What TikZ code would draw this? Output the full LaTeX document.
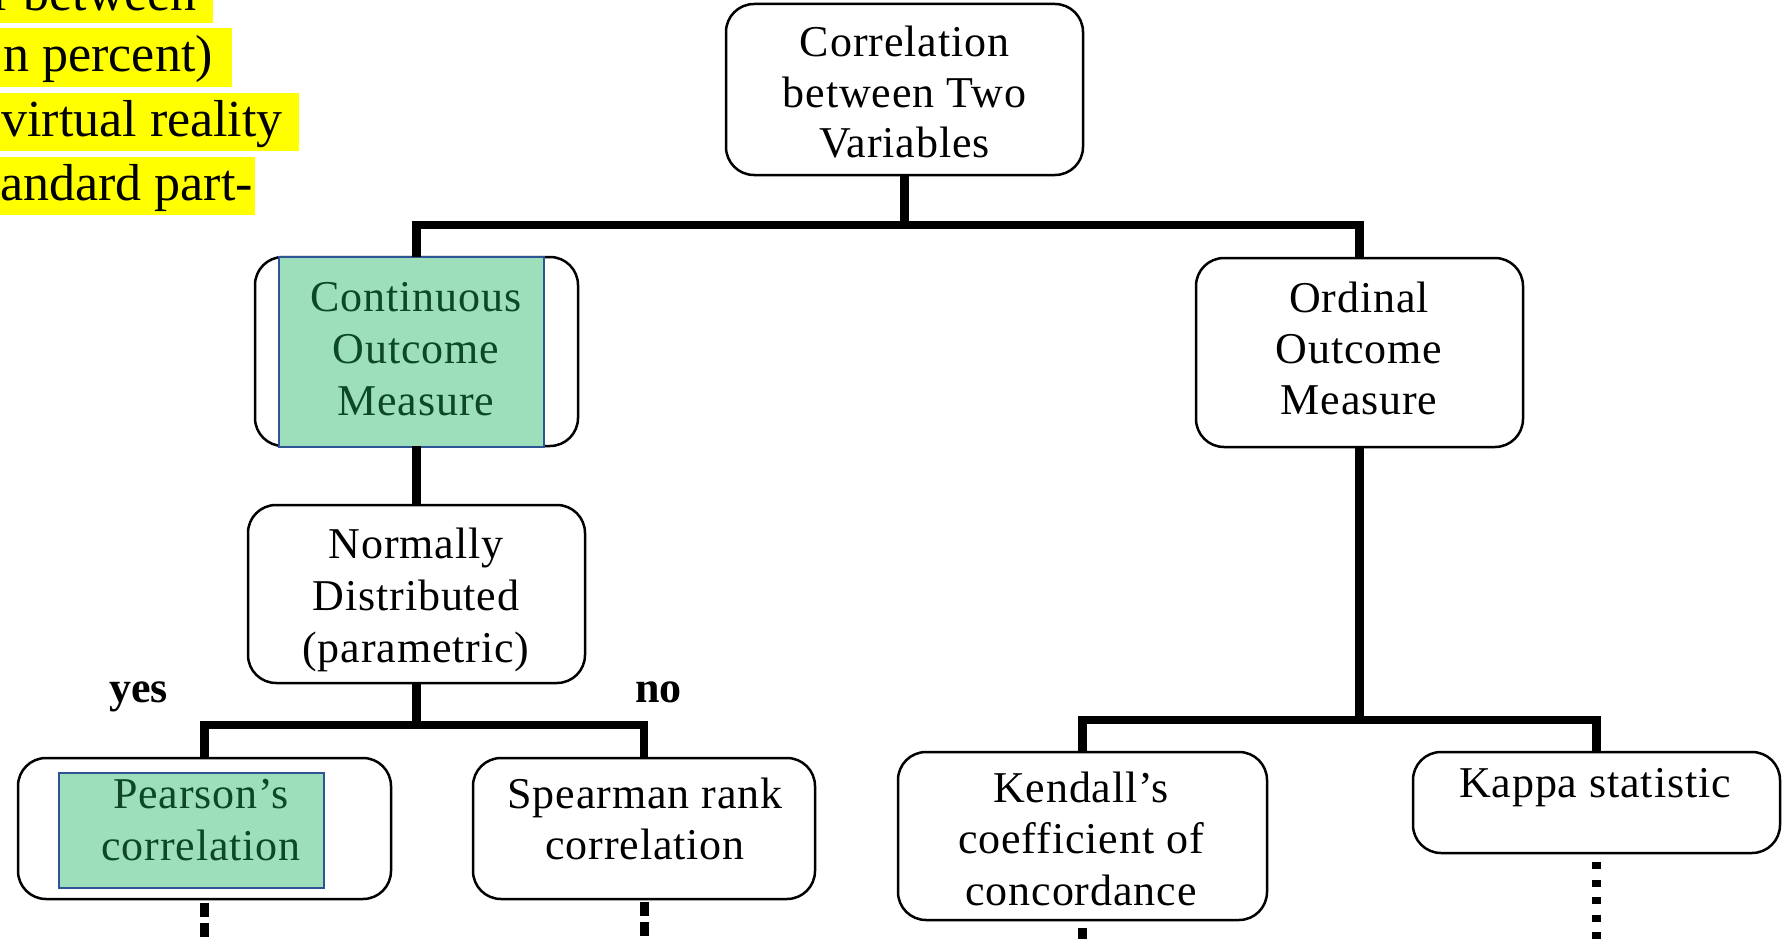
\documentclass[tikz,border=0pt]{standalone}
\usepackage{fontspec}
\setmainfont{Liberation Serif}
\newfontfamily\boxfont{Liberation Serif}[LetterSpace=2]
\definecolor{boxgreen}{RGB}{157,223,186}
\definecolor{boxblue}{RGB}{47,84,150}
\definecolor{txtgreen}{RGB}{12,72,38}
\definecolor{hiyellow}{RGB}{255,255,0}
\tikzset{
  box/.style={draw=black, line width=2.5pt, rounded corners=28pt, fill=white, inner sep=0pt, outer sep=0pt},
  greenbox/.style={draw=boxblue, line width=1.8pt, fill=boxgreen, inner sep=0pt, outer sep=0pt},
  txt/.style={font=\boxfont\fontsize{44}{#1}\selectfont, inner sep=0pt, anchor=base, text=black},
  conn/.style={line width=8.5pt, line join=miter, line cap=butt},
  dotsA/.style={line width=9pt, dash pattern=on 14pt off 6pt},
  dotsB/.style={line width=9pt, dash pattern=on 7pt off 10.5pt},
  lbl/.style={font=\bfseries\fontsize{44}{50}\selectfont, inner sep=0pt, anchor=base west},
  hitxt/.style={font=\fontsize{52}{60}\selectfont, inner sep=0pt, anchor=base east},
}
\newcommand{\lines}[1]{\begin{tabular}[t]{@{}c@{}}#1\end{tabular}}
\begin{document}
\begin{tikzpicture}[x=1pt,y=-1pt]
\useasboundingbox (0,0) rectangle (1791,939);
% highlighted text fragment
\fill[hiyellow] (0,0) rectangle (213,23);
\fill[hiyellow] (0,28) rectangle (232,87);
\fill[hiyellow] (0,93) rectangle (299,151);
\fill[hiyellow] (0,157) rectangle (255,215);
\node[hitxt] (h1) at (197,11) {r between};
\node[hitxt] (h2) at (213,72) {n percent)};
\node[hitxt] (h3) at (283,137) {virtual reality};
\node[hitxt] (h4) at (253,200) {andard part-};

% boxes
\node[box, minimum width=357pt, minimum height=171pt] (top) at (904.5,89.5) {};
\node[box, minimum width=323pt, minimum height=189pt] (cont) at (416.5,351.5) {};
\node[greenbox, minimum width=265pt, minimum height=190pt] (contg) at (411.5,352) {};
\node[box, minimum width=327pt, minimum height=189pt] (ord) at (1359.5,352.5) {};
\node[box, minimum width=337pt, minimum height=178pt] (norm) at (416.5,594) {};
\node[box, minimum width=373pt, minimum height=141pt] (pear) at (204.5,828.5) {};
\node[greenbox, minimum width=265pt, minimum height=115pt] (pearg) at (191.5,830.5) {};
\node[box, minimum width=342pt, minimum height=141pt] (spear) at (644,828.5) {};
\node[box, minimum width=369pt, minimum height=168pt] (kend) at (1082.5,836) {};
\node[box, minimum width=367pt, minimum height=101pt] (kappa) at (1596.5,802.5) {};

% texts
\node[txt=50.5] (topT) at (904.5,57) {\lines{Correlation\\between Two\\Variables}};
\node[txt=52] [text=txtgreen] (contT) at (416,311) {\lines{Continuous\\Outcome\\Measure}};
\node[txt=51] (ordT) at (1359,312) {\lines{Ordinal\\Outcome\\Measure}};
\node[txt=52] (normT) at (416,558) {\lines{Normally\\Distributed\\(parametric)}};
\node[txt=52] [text=txtgreen] (pearT) at (201,808) {\lines{Pearson’s\\correlation}};
\node[txt=51] (spearT) at (645,808) {\lines{Spearman rank\\correlation}};
\node[txt=51.5] (kendT) at (1081,802) {\lines{Kendall’s\\coefficient of\\concordance}};
\node[txt=51] (kappaT) at (1595,797) {\lines{Kappa statistic}};

% labels
\node[lbl] (yes) at (109,702) {yes};
\node[lbl] (no) at (635,702) {no};

% connectors
\draw[conn] (top.south) -- ++(0,50) -| (cont.north);
\draw[conn] (top.south) ++(0,50) -| (ord.north);
\draw[conn] (cont.south) -- (norm.north);
\draw[conn] (norm.south) -- ++(0,42) -| (pear.north);
\draw[conn] (norm.south) ++(0,42) -| (spear.north);
\draw[conn] (ord.south) -- ++(0,273) -| (kend.north);
\draw[conn] (ord.south) ++(0,273) -| (kappa.north);

% dotted continuations
\coordinate (pearE) at (204.5,939);
\coordinate (spearE) at (644,939);
\coordinate (kendE) at (1082.5,939);
\coordinate (kappaE) at (1596.5,939);
\draw[dotsA] ([yshift=-4pt]pear.south) -- (pearE);
\draw[dotsA] ([yshift=-3pt]spear.south) -- (spearE);
\draw[line width=9pt] ([yshift=-8pt]kend.south) -- (kendE);
\draw[dotsB] ([yshift=-9pt]kappa.south) -- (kappaE);
\end{tikzpicture}
\end{document}
